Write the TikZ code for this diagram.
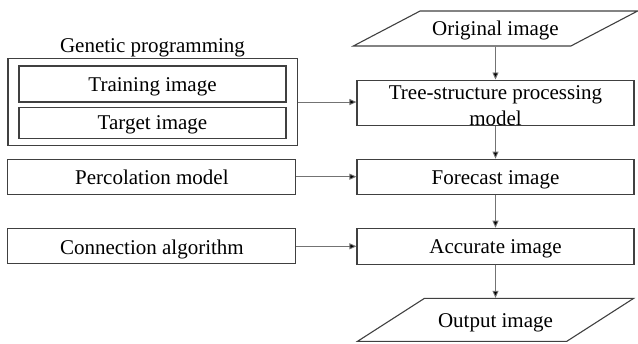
\documentclass[tikz,border=0pt]{standalone}
\usepackage{fontspec}
\setmainfont{Liberation Serif}
\usepackage{tikz}
\usetikzlibrary{positioning,shapes.geometric,arrows.meta,fit}

\begin{document}
\begin{tikzpicture}[x=1pt, y=-1pt, node distance=33pt,
        font=\fontsize{21}{26}\selectfont,
        box/.style={draw=black!75, line width=1.1pt, inner sep=0pt, minimum width=277pt,
                    text height=25.5pt, text depth=9.5pt},
        sidebox/.style={box, minimum width=288pt},
        iobox/.style={trapezium, draw=black!75, line width=1.1pt, inner sep=0pt, trapezium stretches=true},
        flow/.style={draw=black!55, line width=0.9pt, -{Triangle[length=7pt, width=6pt, fill=black]}}]
        \useasboundingbox (0,0) rectangle (638,344);
        \node[iobox, trapezium left angle=32, trapezium right angle=148, minimum width=285pt,
              text height=25pt, text depth=10pt] (orig) at (495.5,28.5) {Original image};
        \node[box, text height=0pt, text depth=0pt, minimum height=45pt, below = of orig] (tree) {};
        \node[align=center] (treetext) at ([yshift=-3pt]tree.center) {Tree-structure processing\\model};
        \node[box, below = of tree] (forecast) {Forecast image};
        \node[box, text height=25.5pt, text depth=10.5pt, below = of forecast] (accurate) {Accurate image};
        \node[iobox, trapezium left angle=38.5, trapezium right angle=141.5, minimum width=277pt,
              text height=29pt, text depth=14pt, below = of accurate] (output) {Output image};
        \node[box, minimum width=267pt, text height=26pt, text depth=10pt] (train) at (152.5,84) {Training image};
        \node[box, minimum width=267pt, text height=22pt, text depth=9pt, below = 4pt of train] (target) {Target image};
        \node[draw=black!75, line width=1.1pt, inner xsep=10.5pt, inner ysep=6.5pt, fit=(train)(target),
              label={[yshift=-2pt]above:Genetic programming}] (gp) {};
        \node[sidebox, left = 60pt of forecast] (perc) {Percolation model};
        \node[sidebox, left = 60pt of accurate] (conn) {Connection algorithm};
        \draw[flow] (orig) -- (tree);
        \draw[flow] (tree) -- (forecast);
        \draw[flow] (forecast) -- (accurate);
        \draw[flow] (accurate) -- (output);
        \draw[flow] (gp.east) -- (tree.west |- gp.east);
        \draw[flow] (perc) -- (forecast);
        \draw[flow] (conn) -- (accurate);
    \end{tikzpicture}
\end{document}
